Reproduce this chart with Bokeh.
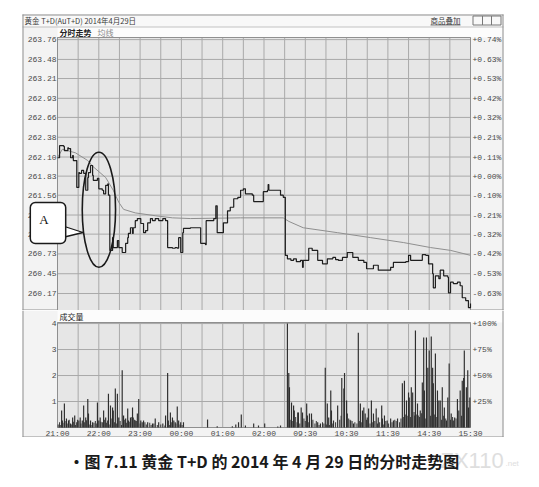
from bokeh.plotting import figure
from bokeh.models import Range1d, Label
from bokeh.core.properties import value
from bokeh.layouts import column
from bokeh.embed import file_html
from bokeh.resources import INLINE

# ---------------- data ----------------
BASE_PRICE = 261.83
price_ticks = [263.76, 263.48, 263.21, 262.93, 262.66, 262.38, 262.10,
               261.83, 261.56, 261.28, 261.01, 260.73, 260.45, 260.17]
pct_labels = ["+0.74%", "+0.63%", "+0.53%", "+0.42%", "+0.32%", "+0.21%", "+0.11%",
              "+0.00%", "-0.10%", "-0.21%", "-0.32%", "-0.42%", "-0.53%", "-0.63%"]

time_ticks = [0, 60, 120, 180, 240, 300, 360, 420, 480, 540, 600]
time_labels = ["21:00", "22:00", "23:00", "00:00", "01:00", "02:00",
               "09:30", "10:30", "11:30", "14:30", "15:30"]
grid_minutes = [0, 30, 60, 90, 120, 150, 180, 210, 240, 270, 300, 330, 360,
                390, 420, 450, 480, 510, 540, 570, 600]

vol_ticks = [1, 2, 3, 4]
vol_tick_labels = ["1", "2", "3", "4"]
vol_pct_labels = ["+25%", "+50%", "+75%", "+100%"]

# minute index (trading minutes from 21:00) and price
price_min = [0, 3, 9, 10, 15, 16, 19, 22, 23, 28,
             31, 32, 35, 38, 41, 44, 45, 48, 51, 52,
             58, 60, 65, 67, 70, 73, 74, 76, 80, 81,
             87, 89, 94, 99, 102, 103, 106, 109, 110, 113,
             116, 121, 125, 128, 131, 135, 138, 142, 147, 153,
             157, 160, 167, 171, 174, 176, 179, 182, 183, 193,
             205, 208, 215, 216, 227, 230, 232, 240, 241, 247,
             251, 256, 262, 266, 270, 273, 283, 285, 298, 299,
             305, 306, 307, 321, 324, 328, 331, 334, 339, 343,
             347, 353, 356, 357, 365, 370, 378, 385, 392, 400,
             404, 408, 414, 421, 429, 437, 445, 449, 455, 459,
             466, 479, 484, 488, 506, 510, 513, 527, 530, 535,
             539, 545, 546, 549, 554, 556, 561, 567, 568, 571,
             575, 581, 585, 588, 593, 597, 600]
price_val = [262.09, 262.26, 262.25, 262.19, 262.23, 262.22, 262.09, 262.12, 262.05, 261.67,
             261.88, 261.87, 261.91, 261.87, 261.63, 261.81, 261.88, 261.98, 261.84, 261.77,
             261.80, 261.65, 261.63, 261.58, 261.70, 261.72, 261.56, 260.78, 260.96, 260.82,
             260.92, 260.82, 260.75, 260.88, 260.96, 261.02, 261.10, 261.02, 261.10, 261.20,
             261.23, 261.16, 261.03, 261.06, 261.17, 261.23, 261.20, 261.23, 261.20, 261.23,
             261.20, 260.82, 260.81, 260.82, 260.81, 260.96, 260.75, 261.03, 261.09, 261.10,
             261.10, 260.88, 260.86, 261.20, 261.23, 261.41, 261.03, 261.03, 261.17, 261.34,
             261.39, 261.51, 261.53, 261.63, 261.65, 261.58, 261.56, 261.47, 261.47, 261.61,
             261.63, 261.71, 261.63, 261.63, 261.56, 261.53, 260.71, 260.66, 260.64, 260.66,
             260.62, 260.64, 260.54, 260.64, 260.81, 260.78, 260.64, 260.59, 260.66, 260.68,
             260.65, 260.64, 260.68, 260.75, 260.68, 260.64, 260.61, 260.52, 260.52, 260.57,
             260.50, 260.50, 260.54, 260.61, 260.62, 260.71, 260.64, 260.64, 260.72, 260.71,
             260.59, 260.45, 260.25, 260.42, 260.38, 260.50, 260.42, 260.40, 260.18, 260.33,
             260.31, 260.33, 260.28, 260.11, 260.07, 259.97, 260.03]

avg_min = [0, 7, 26, 44, 51, 70, 81, 89, 96, 113, 142, 167,
           193, 266, 328, 336, 357, 407, 455, 503, 542, 571, 600]
avg_val = [262.09, 262.21, 262.16, 262.05, 261.97, 261.81, 261.63, 261.46, 261.36, 261.31, 261.27, 261.24,
           261.23, 261.24, 261.24, 261.19, 261.10, 261.03, 260.96, 260.89, 260.82, 260.78, 260.71]

# larger volume bars
vol_min = [6, 7, 10, 13, 16, 19, 22, 25, 28, 31,
           33, 36, 38, 41, 44, 45, 48, 51, 58, 60,
           62, 65, 67, 70, 73, 74, 77, 80, 81, 84,
           87, 89, 94, 96, 99, 102, 103, 106, 109, 110,
           113, 116, 118, 121, 123, 125, 131, 138, 142, 147,
           153, 157, 160, 161, 164, 167, 169, 171, 174, 176,
           179, 183, 218, 232, 254, 259, 263, 267, 273, 285,
           292, 301, 320, 324, 334, 336, 337, 340, 343, 344,
           349, 350, 354, 356, 362, 363, 366, 369, 378, 382,
           389, 392, 394, 397, 398, 401, 407, 413, 416, 417,
           420, 421, 426, 430, 437, 440, 443, 445, 447, 450,
           452, 456, 459, 463, 466, 471, 472, 475, 479, 484,
           488, 494, 501, 504, 507, 510, 511, 514, 516, 519,
           520, 523, 524, 527, 530, 532, 533, 536, 538, 540,
           543, 545, 546, 549, 552, 554, 556, 559, 562, 565,
           567, 569, 572, 575, 577, 581, 583, 585, 588, 590,
           591, 594, 596, 597, 599]
vol_val = [0.65, 0.27, 0.92, 0.35, 0.27, 0.15, 0.38, 0.46, 0.20, 0.27,
           0.38, 0.27, 0.85, 0.38, 1.10, 0.54, 0.27, 0.20, 0.96, 0.27,
           0.38, 0.20, 0.65, 0.38, 0.27, 1.30, 0.85, 0.77, 0.65, 1.50,
           1.30, 0.38, 2.20, 0.46, 0.35, 0.73, 0.27, 0.38, 0.77, 0.38,
           0.27, 0.54, 1.10, 0.27, 0.20, 0.27, 0.20, 0.15, 0.35, 0.20,
           0.15, 0.46, 2.10, 0.27, 0.58, 0.38, 0.27, 0.20, 0.81, 0.27,
           0.20, 0.20, 0.31, 0.05, 0.05, 0.12, 0.20, 0.50, 0.08, 0.15,
           0.08, 0.15, 0.04, 0.08, 4.00, 2.10, 1.55, 0.96, 0.85, 0.65,
           0.58, 0.58, 0.77, 0.58, 0.92, 0.46, 0.54, 0.54, 0.20, 0.15,
           2.30, 0.92, 0.38, 1.42, 0.65, 0.27, 0.85, 1.90, 1.50, 2.10,
           1.04, 0.54, 0.27, 0.15, 3.65, 0.92, 0.65, 0.77, 0.54, 0.38,
           0.73, 1.04, 0.54, 0.73, 0.38, 0.85, 0.35, 0.46, 0.27, 0.35,
           0.27, 0.35, 1.70, 1.80, 1.04, 1.35, 1.15, 1.55, 1.35, 0.46,
           3.73, 0.92, 0.46, 0.65, 1.73, 3.46, 1.42, 3.46, 2.30, 2.96,
           3.50, 2.30, 1.70, 2.85, 1.42, 1.04, 1.04, 1.55, 0.77, 0.27,
           1.15, 2.46, 0.54, 0.27, 0.38, 1.10, 0.65, 1.42, 1.80, 1.90,
           2.96, 1.55, 2.20, 0.77, 1.15]

# small volume bars filling the dense low band (night session)
night_small_min = [1, 3, 4, 8, 11, 14, 17, 20, 23, 26,
                   29, 34, 39, 42, 47, 50, 53, 55, 57, 63,
                   68, 71, 75, 79, 83, 86, 91, 93, 97, 100,
                   105, 108, 112, 115, 120, 127, 129, 134, 136, 140,
                   145, 150, 156, 163, 166, 172, 178, 181]
night_small_val = [0.12, 0.20, 0.10, 0.18, 0.25, 0.15, 0.30, 0.12, 0.22, 0.10,
                   0.30, 0.15, 0.20, 0.28, 0.12, 0.10, 0.18, 0.25, 0.15, 0.22,
                   0.30, 0.18, 0.12, 0.35, 0.20, 0.15, 0.25, 0.10, 0.30, 0.18,
                   0.22, 0.40, 0.30, 0.25, 0.15, 0.20, 0.12, 0.18, 0.10, 0.15,
                   0.10, 0.12, 0.08, 0.10, 0.20, 0.15, 0.12, 0.10]
# small volume bars filling the dense low band (day session)
day_small_min = [338, 341, 346, 348, 352, 358, 360, 365, 371, 374,
                 376, 380, 385, 387, 391, 395, 400, 404, 410, 412,
                 423, 425, 428, 432, 435, 439, 442, 449, 454, 458,
                 461, 465, 468, 474, 477, 481, 486, 490, 492, 497,
                 499, 503, 506, 509, 513, 518, 522, 526, 529, 535,
                 542, 548, 551, 558, 561, 564, 571, 574, 579, 587]
day_small_val = [0.30, 0.25, 0.40, 0.20, 0.15, 0.35, 0.25, 0.20, 0.30, 0.15,
                 0.25, 0.10, 0.20, 0.15, 0.12, 0.10, 0.15, 0.20, 0.30, 0.45,
                 0.35, 0.30, 0.25, 0.20, 0.15, 0.25, 0.20, 0.30, 0.15, 0.20,
                 0.25, 0.15, 0.20, 0.12, 0.25, 0.15, 0.20, 0.30, 0.25, 0.20,
                 0.35, 0.40, 0.50, 0.45, 0.40, 0.60, 0.50, 0.40, 0.55, 0.35,
                 0.45, 0.50, 0.40, 0.30, 0.45, 0.35, 0.30, 0.40, 0.35, 0.45]

title_text = "黄金 T+D(AuT+D) 2014年4月29日"
caption_text = "•图 7.11    黄金 T+D 的 2014 年 4 月 29 日的分时走势图"

# ---------------- styling ----------------
NUM_FONT = "Liberation Mono"
CJK_FONT = "Noto Sans CJK SC"
GRID = "#a9a9a9"
PLOT_BG = "#e6e6e6"
COL_BG = "#f3f3f3"
EDGE = "#8f8f8f"
TICK_TXT = "#4a4a4a"
PAGE_W = 539

# panel geometry (page pixels) -> helper scales used for decorations only
PRICE_LO, PRICE_HI = 259.93, 263.79          # plot area of the price panel
VOL_HI = 4.04                                 # top of the volume plot area
MPP = 600 / 413                               # minutes per pixel
PPP = (PRICE_HI - PRICE_LO) / 273             # price per pixel
VPP = VOL_HI / 105                            # volume per pixel


def mx(px):
    return (px - 57) * MPP


def py1(py):
    return PRICE_HI - (py - 37) * PPP


def py2(py):
    return (427 - py) * VPP


def dlabel(p, x, y, text, size="8px", color="#333333", font=CJK_FONT, style="normal",
           align="left", **kw):
    lb = Label(x=x, y=y, text=text, text_font=font, text_font_size=size, text_color=color,
               text_font_style=style, text_align=align, text_baseline="middle", **kw)
    p.add_layout(lb)
    return lb


def ticktext(p, xs, ys, labels, align, baseline="middle"):
    p.text(x=xs, y=ys, text=labels, text_font=value(NUM_FONT), text_font_size="8px",
           text_color=TICK_TXT, text_align=align, text_baseline=baseline)


def panel(height, y_range, x_range):
    f = figure(width=PAGE_W, height=height, x_range=x_range, y_range=y_range,
               x_axis_location=None, y_axis_location=None, min_border=0, frame_align=False,
               output_backend="svg", toolbar_location=None)
    f.grid.visible = False
    f.outline_line_color = None
    f.background_fill_color = "white"
    f.border_fill_color = "white"
    return f


x_range = Range1d(mx(0), mx(PAGE_W))

# ---------------- price panel (page y 0..310) ----------------
p1 = panel(310, Range1d(py1(310), py1(0)), x_range)

p1.quad(left=[mx(22)], right=[mx(503)], top=[py1(14)], bottom=[py1(310)],
        fill_color=COL_BG, line_color=None)
p1.quad(left=[mx(22)], right=[mx(503)], top=[py1(14)], bottom=[py1(26)],
        fill_color="#f8f8f8", line_color=None)
p1.quad(left=[mx(57)], right=[mx(503)], top=[py1(26)], bottom=[py1(37)],
        fill_color="#fcfcfc", line_color=None)
p1.segment(x0=[mx(22)], y0=[py1(26.5)], x1=[mx(503)], y1=[py1(26.5)],
           line_color="#c2c2c2", line_width=1)
# outer frame (left, top, right, bottom)
p1.segment(x0=[mx(22.5), mx(22), mx(502.5), mx(22)],
           y0=[py1(14), py1(14.5), py1(14), py1(309.5)],
           x1=[mx(22.5), mx(503), mx(502.5), mx(503)],
           y1=[py1(310), py1(14.5), py1(310), py1(309.5)],
           line_color=EDGE, line_width=1)
p1.segment(x0=[mx(430)], y0=[py1(24.5)], x1=[mx(460)], y1=[py1(24.5)],
           line_color="#555555", line_width=0.8)
p1.quad(left=[mx(472.5)], right=[mx(500.5)], top=[py1(15.5)], bottom=[py1(24.5)],
        fill_color=None, line_color="#777777", line_width=1)
p1.segment(x0=[mx(482), mx(491)], y0=[py1(15.5)] * 2, x1=[mx(482), mx(491)], y1=[py1(24.5)] * 2,
           line_color="#777777", line_width=1)

# plot area + grid
p1.quad(left=[0], right=[600], bottom=[PRICE_LO], top=[PRICE_HI], fill_color=PLOT_BG, line_color=None)
p1.segment(x0=[0] * len(price_ticks), y0=price_ticks, x1=[600] * len(price_ticks), y1=price_ticks,
           line_color=GRID, line_width=1)
p1.segment(x0=grid_minutes, y0=[PRICE_LO] * len(grid_minutes), x1=grid_minutes,
           y1=[PRICE_HI] * len(grid_minutes), line_color=GRID, line_width=1)
p1.segment(x0=[0, 600, 0], y0=[PRICE_LO, PRICE_LO, PRICE_HI], x1=[0, 600, 600],
           y1=[PRICE_HI, PRICE_HI, PRICE_HI], line_color=EDGE, line_width=1)

# tick labels (left: price, right: change vs. previous settlement)
ticktext(p1, [mx(56)] * len(price_ticks), price_ticks, [f"{t:.2f}" for t in price_ticks], "right")
ticktext(p1, [mx(472)] * len(price_ticks), price_ticks, pct_labels, "left")

p1.line(avg_min, avg_val, line_color="#8f8f8f", line_width=1)
p1.step(price_min, price_val, mode="after", line_color="#1e1e1e", line_width=1.2)

# annotation A (ellipse + callout)
p1.ellipse(x=[mx(98.4)], y=[py1(209.2)], width=[33.3 * MPP], height=[115 * PPP],
           fill_color=None, line_color="#1a1a1a", line_width=1.6)
p1.patch(x=[mx(64), mx(82.5), mx(64)], y=[py1(226), py1(232), py1(236.5)],
         fill_color="white", line_color="#1a1a1a", line_width=1.3)
dlabel(p1, mx(47.5), py1(222.5), "A", size="13px", color="#111111", font="Liberation Serif",
       align="center", background_fill_color="white", border_line_color="#1a1a1a",
       border_line_width=1.5, padding=(9, 17, 9, 17), border_radius=5)

dlabel(p1, mx(24), py1(20), title_text, size="7.5px", color="#3a3a3a")
dlabel(p1, mx(430), py1(20), "商品叠加", size="7.5px", color="#3a3a3a")
dlabel(p1, mx(59), py1(31.5), "分时走势", color="#222222", style="bold")
dlabel(p1, mx(97), py1(31.5), "均线", color="#8a8a8a")

# ---------------- volume panel (page y 310..437) ----------------
p2 = panel(127, Range1d(py2(437), py2(310)), x_range)

p2.quad(left=[mx(22)], right=[mx(503)], top=[py2(310)], bottom=[py2(437)],
        fill_color=COL_BG, line_color=None)
p2.quad(left=[mx(57)], right=[mx(503)], top=[py2(310.5)], bottom=[py2(322)],
        fill_color="#fcfcfc", line_color=None)
p2.segment(x0=[mx(22.5), mx(502.5), mx(22)], y0=[py2(310), py2(310), py2(436.5)],
           x1=[mx(22.5), mx(502.5), mx(503)], y1=[py2(437), py2(437), py2(436.5)],
           line_color=EDGE, line_width=1)
p2.quad(left=[0], right=[600], bottom=[0], top=[VOL_HI], fill_color=PLOT_BG, line_color=None)
p2.segment(x0=[0] * len(vol_ticks), y0=vol_ticks, x1=[600] * len(vol_ticks), y1=vol_ticks,
           line_color=GRID, line_width=1)
p2.segment(x0=grid_minutes, y0=[0] * len(grid_minutes), x1=grid_minutes,
           y1=[VOL_HI] * len(grid_minutes), line_color=GRID, line_width=1)
p2.segment(x0=[0, 600, 0, 0], y0=[0, 0, 0, VOL_HI], x1=[0, 600, 600, 600],
           y1=[VOL_HI, VOL_HI, 0, VOL_HI], line_color=EDGE, line_width=1)

ticktext(p2, [mx(56)] * len(vol_ticks), vol_ticks, vol_tick_labels, "right")
ticktext(p2, [mx(472)] * len(vol_ticks), vol_ticks, vol_pct_labels, "left")
ticktext(p2, time_ticks, [py2(432.5)] * len(time_ticks), time_labels, "center")

p2.vbar(x=night_small_min, top=night_small_val, width=1.5, fill_color="#3a3a3a", line_color=None)
p2.vbar(x=day_small_min, top=day_small_val, width=1.5, fill_color="#3a3a3a", line_color=None)
p2.vbar(x=vol_min, top=vol_val, width=1.7, fill_color="#2e2e2e", line_color=None)
dlabel(p2, mx(59), py2(316), "成交量", color="#222222")

# ---------------- caption (page y 437..483) ----------------
p3 = panel(46, Range1d(46, 0), Range1d(0, PAGE_W))
dlabel(p3, 440, 23, "ZX110", size="22px", color="#dedede", font="Liberation Sans")
dlabel(p3, 505, 26, ".net", size="8px", color="#dedede", font="Liberation Sans")
dlabel(p3, 68, 23, caption_text, size="16px", color="#1a1a1a", style="bold")

layout = column(p1, p2, p3)

with open("out.html", "w") as f:
    f.write(file_html(layout, INLINE))
